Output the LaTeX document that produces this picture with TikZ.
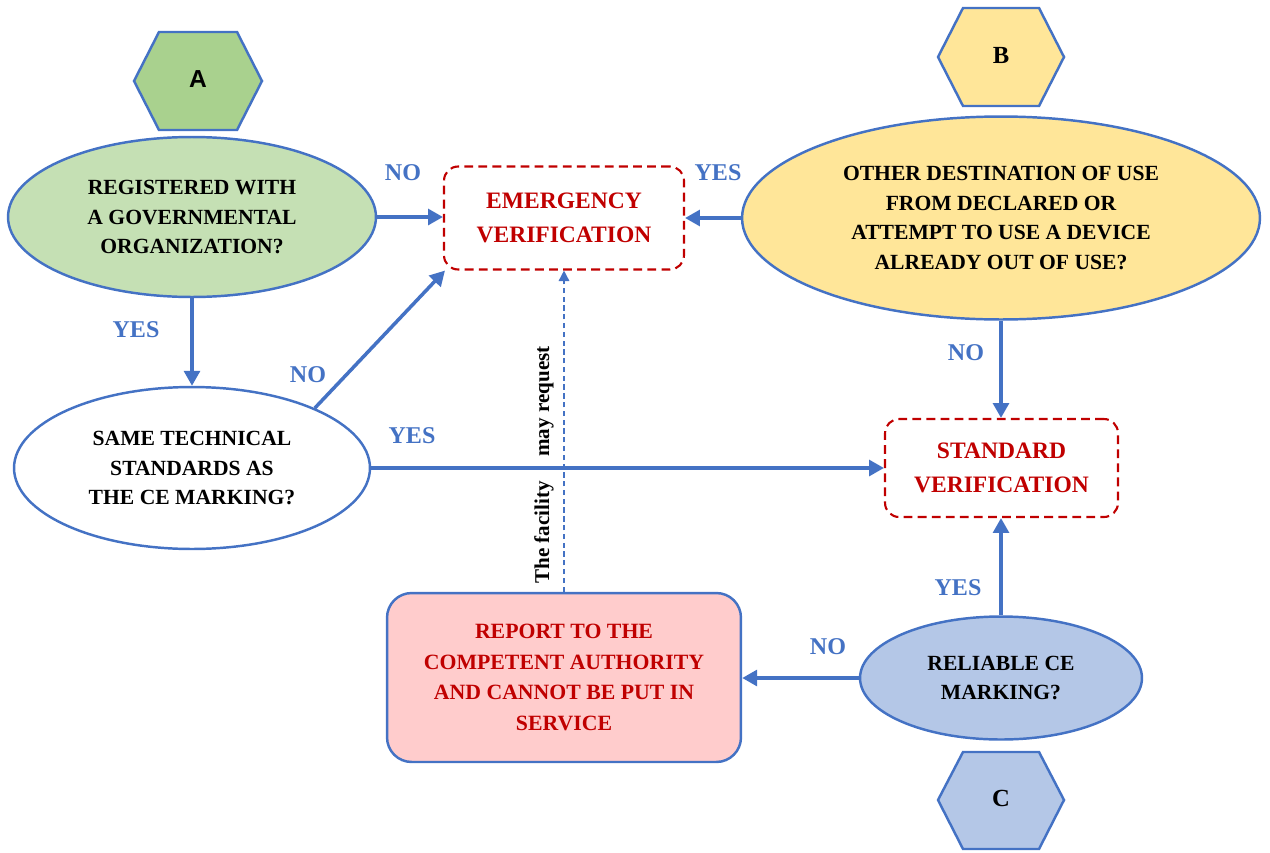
\documentclass[tikz,border=0pt]{standalone}
\usepackage{fontspec}
\setmainfont{Liberation Serif}
\newfontfamily\hexsans{Liberation Sans}
\usetikzlibrary{shapes.geometric,arrows.meta}

\definecolor{lineblue}{HTML}{4472C4}
\definecolor{hexgreen}{HTML}{A9D18E}
\definecolor{palegreen}{HTML}{C5E0B4}
\definecolor{paleyellow}{HTML}{FFE699}
\definecolor{paleblue}{HTML}{B4C7E7}
\definecolor{palepink}{HTML}{FFCCCC}
\definecolor{darkred}{HTML}{C00000}

\tikzset{
  question/.style={ellipse, draw=lineblue, line width=1.4pt, inner sep=0pt,
    align=center, font=\bfseries\fontsize{12.3}{17}\selectfont},
  verifybox/.style={rectangle, rounded corners=8pt, draw=darkred, line width=1.2pt,
    dash pattern=on 5pt off 3pt, text=darkred, align=center,
    font=\bfseries\fontsize{13.4}{19.5}\selectfont},
  reportbox/.style={rectangle, rounded corners=14pt, draw=lineblue, line width=1.4pt,
    fill=palepink, text=darkred, align=center,
    font=\bfseries\fontsize{12.4}{17.5}\selectfont},
  hexlabel/.style={font=\bfseries\fontsize{14}{16}\selectfont},
  answer/.style={text=lineblue, font=\bfseries\fontsize{13.7}{16}\selectfont},
  flow/.style={draw=lineblue, line width=2pt, -{Triangle[length=8.5pt,width=9pt]}},
  request/.style={draw=lineblue, line width=0.9pt, dash pattern=on 3pt off 2pt,
    -{Triangle[length=6pt,width=6pt]}},
  hexfill/.style={draw=lineblue, line width=1.4pt},
}

\begin{document}
\begin{tikzpicture}[x=0.02cm, y=-0.02cm]
\useasboundingbox (0,0) rectangle (1270,852);

% start markers
\filldraw[hexfill, fill=hexgreen]
  (134,81) -- (159,32) -- (237,32) -- (262,81) -- (237,130) -- (159,130) -- cycle;
\node[hexlabel, font=\hexsans\bfseries\fontsize{14}{16}\selectfont] (hexA) at (198,79) {A};

\filldraw[hexfill, fill=paleyellow]
  (938,57) -- (963,8) -- (1039,8) -- (1064,57) -- (1039,106) -- (963,106) -- cycle;
\node[hexlabel] (hexB) at (1001,55) {B};

\filldraw[hexfill, fill=paleblue]
  (938,800) -- (963,752) -- (1039,752) -- (1064,800) -- (1039,849) -- (963,849) -- cycle;
\node[hexlabel] (hexC) at (1001,798) {C};

% questions
\node[question, fill=palegreen, minimum width=7.36cm, minimum height=3.2cm]
  (regq) at (192,217) {REGISTERED WITH\\A GOVERNMENTAL\\ORGANIZATION?};
\node[question, fill=white, minimum width=7.12cm, minimum height=3.24cm]
  (stdq) at (192,468) {SAME TECHNICAL\\STANDARDS AS\\THE CE MARKING?};
\node[question, fill=paleyellow, minimum width=10.36cm, minimum height=4.06cm]
  (useq) at (1001,218) {OTHER DESTINATION OF USE\\FROM DECLARED OR\\ATTEMPT TO USE A DEVICE\\ALREADY OUT OF USE?};
\node[question, fill=paleblue, minimum width=5.64cm, minimum height=2.46cm]
  (ceq) at (1001,678) {RELIABLE CE\\MARKING?};

% outcomes
\node[verifybox, minimum width=4.8cm, minimum height=2.06cm]
  (emerg) at (564,218) {EMERGENCY\\VERIFICATION};
\node[verifybox, minimum width=4.66cm, minimum height=1.96cm]
  (stdver) at (1001.5,468) {STANDARD\\VERIFICATION};
\node[reportbox, minimum width=7.08cm, minimum height=3.38cm]
  (report) at (564,677.5) {REPORT TO THE\\COMPETENT AUTHORITY\\AND CANNOT BE PUT IN\\SERVICE};

% connectors
\draw[flow] (regq.east) -- (regq.east -| emerg.west);
\draw[flow] (useq.west) -- (useq.west -| emerg.east);
\draw[flow] (regq.south) -- (stdq.north);
\draw[flow] (stdq.26) -- ([xshift=0.04cm]emerg.south west);
\draw[flow] (stdq.east) -- (stdq.east -| stdver.west);
\draw[flow] (useq.south) -- (useq.south |- stdver.north);
\draw[flow] (ceq.north) -- (ceq.north |- stdver.south);
\draw[flow] (ceq.west) -- (ceq.west -| report.east);
\draw[request] (report.north) -- (emerg.south);

% answers
\node[answer] (noA) at (403,173) {NO};
\node[answer] (yesB) at (718,173) {YES};
\node[answer] (yesA) at (136,330) {YES};
\node[answer] (noS) at (308,375) {NO};
\node[answer] (yesS) at (412,436) {YES};
\node[answer] (noB) at (966,353) {NO};
\node[answer] (yesC) at (958,588) {YES};
\node[answer] (noC) at (828,647) {NO};

% note on the request line
\node[rotate=90, font=\bfseries\fontsize{12}{14}\selectfont] (note) at (544,465)
  {The facility\hspace{11pt} may request};
\end{tikzpicture}
\end{document}
